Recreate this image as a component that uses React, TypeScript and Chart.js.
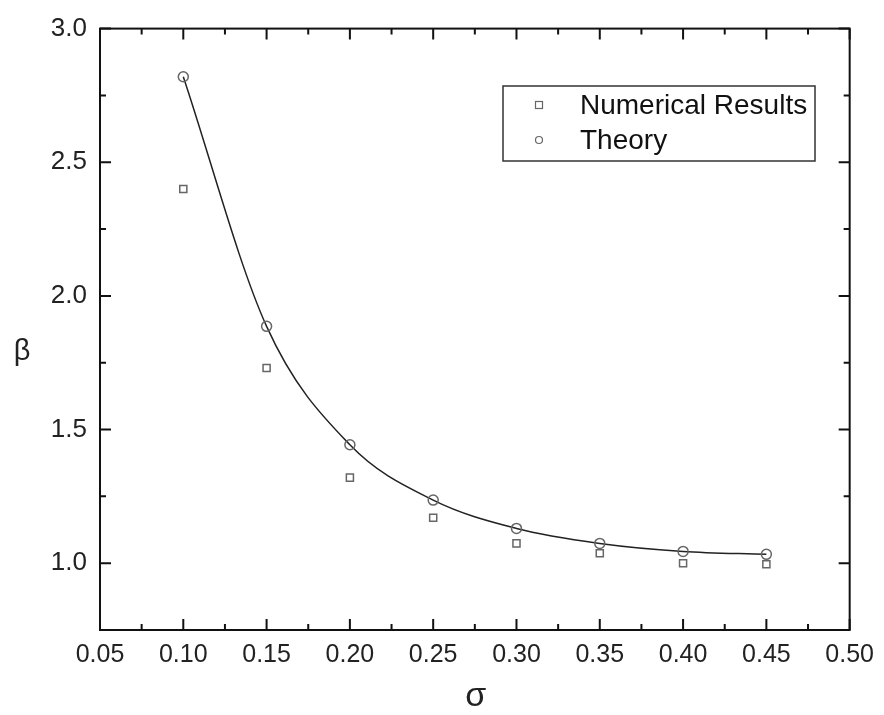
import React, { useEffect, useRef } from "react";
import { Chart, registerables } from "chart.js";

Chart.register(...registerables);

const sigma = [0.1, 0.15, 0.2, 0.25, 0.3, 0.35, 0.4, 0.45];
const numericalBeta = [2.4, 1.73, 1.32, 1.17, 1.074, 1.037, 1.0, 0.996];
const theoryBeta = [2.82, 1.886, 1.443, 1.236, 1.13, 1.074, 1.044, 1.033];
const xTicks = [0.05, 0.1, 0.15, 0.2, 0.25, 0.3, 0.35, 0.4, 0.45, 0.5];
const yTicks = [1.0, 1.5, 2.0, 2.5, 3.0];
const xMinorTicks = [0.075, 0.125, 0.175, 0.225, 0.275, 0.325, 0.375, 0.425, 0.475];
const yMinorTicks = [1.25, 1.75, 2.25, 2.75];
const seriesLabels = ["Numerical Results", "Theory"];
const xTitle = "σ";
const yTitle = "β";

const FONT = "'Liberation Sans', Arial, sans-serif";

const framePlugin = {
  id: "originFrame",
  afterDraw(chart: any) {
    const { ctx, chartArea: a, scales } = chart;
    const xs = scales.x;
    const ys = scales.y;
    ctx.save();
    ctx.strokeStyle = "#111";
    ctx.lineWidth = 2;
    ctx.strokeRect(a.left, a.top, a.right - a.left, a.bottom - a.top);
    const major = 11;
    const minor = 6;
    ctx.lineWidth = 2;
    const vtick = (v: number, len: number) => {
      const px = xs.getPixelForValue(v);
      ctx.beginPath();
      ctx.moveTo(px, a.bottom);
      ctx.lineTo(px, a.bottom - len);
      ctx.moveTo(px, a.top);
      ctx.lineTo(px, a.top + len);
      ctx.stroke();
    };
    const htick = (v: number, len: number) => {
      const py = ys.getPixelForValue(v);
      ctx.beginPath();
      ctx.moveTo(a.left, py);
      ctx.lineTo(a.left + len, py);
      ctx.moveTo(a.right, py);
      ctx.lineTo(a.right - len, py);
      ctx.stroke();
    };
    xTicks.forEach((v) => vtick(v, major));
    xMinorTicks.forEach((v) => vtick(v, minor));
    yTicks.forEach((v) => htick(v, major));
    yMinorTicks.forEach((v) => htick(v, minor));

    // axis titles
    ctx.fillStyle = "#222";
    ctx.textAlign = "center";
    ctx.textBaseline = "middle";
    ctx.font = `34px ${FONT}`;
    ctx.fillText(xTitle, (a.left + a.right) / 2 + 1, 697);
    ctx.font = `29px ${FONT}`;
    ctx.fillText(yTitle, 22, 352);

    // legend
    const lx = 503, ly = 86, lw = 312, lh = 75;
    ctx.strokeStyle = "#333";
    ctx.lineWidth = 1.5;
    ctx.strokeRect(lx, ly, lw, lh);
    ctx.strokeStyle = "#666";
    ctx.lineWidth = 1.2;
    ctx.strokeRect(539 - 3.5, 105 - 3.5, 7, 7);
    ctx.beginPath();
    ctx.arc(539, 140, 3.5, 0, Math.PI * 2);
    ctx.stroke();
    ctx.fillStyle = "#111";
    ctx.textAlign = "left";
    ctx.font = `28px ${FONT}`;
    ctx.fillText(seriesLabels[0], 580, 106);
    ctx.fillText(seriesLabels[1], 580, 141);
    ctx.restore();
  },
};

export default function App() {
  const ref = useRef<HTMLCanvasElement | null>(null);
  useEffect(() => {
    if (!ref.current) return;
    const chart = new Chart(ref.current, {
      type: "scatter",
      data: {
        datasets: [
          {
            label: seriesLabels[0],
            data: sigma.map((x, i) => ({ x, y: numericalBeta[i] })),
            pointStyle: "rect",
            pointRadius: 5,
            pointBorderColor: "#666",
            pointBackgroundColor: "rgba(0,0,0,0)",
            pointBorderWidth: 1.5,
            showLine: false,
          },
          {
            label: seriesLabels[1],
            data: sigma.map((x, i) => ({ x, y: theoryBeta[i] })),
            pointStyle: "circle",
            pointRadius: 5,
            pointBorderColor: "#666",
            pointBackgroundColor: "rgba(0,0,0,0)",
            pointBorderWidth: 1.5,
            showLine: true,
            borderColor: "#222",
            borderWidth: 1.5,
            cubicInterpolationMode: "monotone",
          },
        ],
      },
      options: {
        animation: false,
        responsive: false,
        maintainAspectRatio: false,
        layout: { padding: { top: 21, right: 28, left: 0, bottom: 0 } },
        plugins: { legend: { display: false }, tooltip: { enabled: false } },
        scales: {
          x: {
            type: "linear",
            min: 0.05,
            max: 0.5,
            grid: { display: false, drawTicks: false },
            border: { display: false },
            afterBuildTicks: (s: any) => {
              s.ticks = xTicks.map((v) => ({ value: v }));
            },
            afterFit: (s: any) => {
              s.height = 85;
            },
            ticks: {
              autoSkip: false,
              maxRotation: 0,
              padding: 10,
              color: "#222",
              font: { family: FONT, size: 25 },
              callback: (v: any) => Number(v).toFixed(2),
            },
          },
          y: {
            type: "linear",
            min: 0.75,
            max: 3.0,
            grid: { display: false, drawTicks: false },
            border: { display: false },
            afterBuildTicks: (s: any) => {
              s.ticks = yTicks.map((v) => ({ value: v }));
            },
            afterFit: (s: any) => {
              s.width = 100;
            },
            ticks: {
              autoSkip: false,
              padding: 13,
              color: "#222",
              font: { family: FONT, size: 26 },
              callback: (v: any) => Number(v).toFixed(1),
            },
          },
        },
      },
      plugins: [framePlugin],
    } as any);
    return () => chart.destroy();
  }, []);
  return (
    <div style={{ position: "fixed", left: 0, top: 0, width: 884, height: 715, background: "#fff" }}>
      <canvas ref={ref} width={884} height={715} style={{ width: 884, height: 715 }} />
    </div>
  );
}
